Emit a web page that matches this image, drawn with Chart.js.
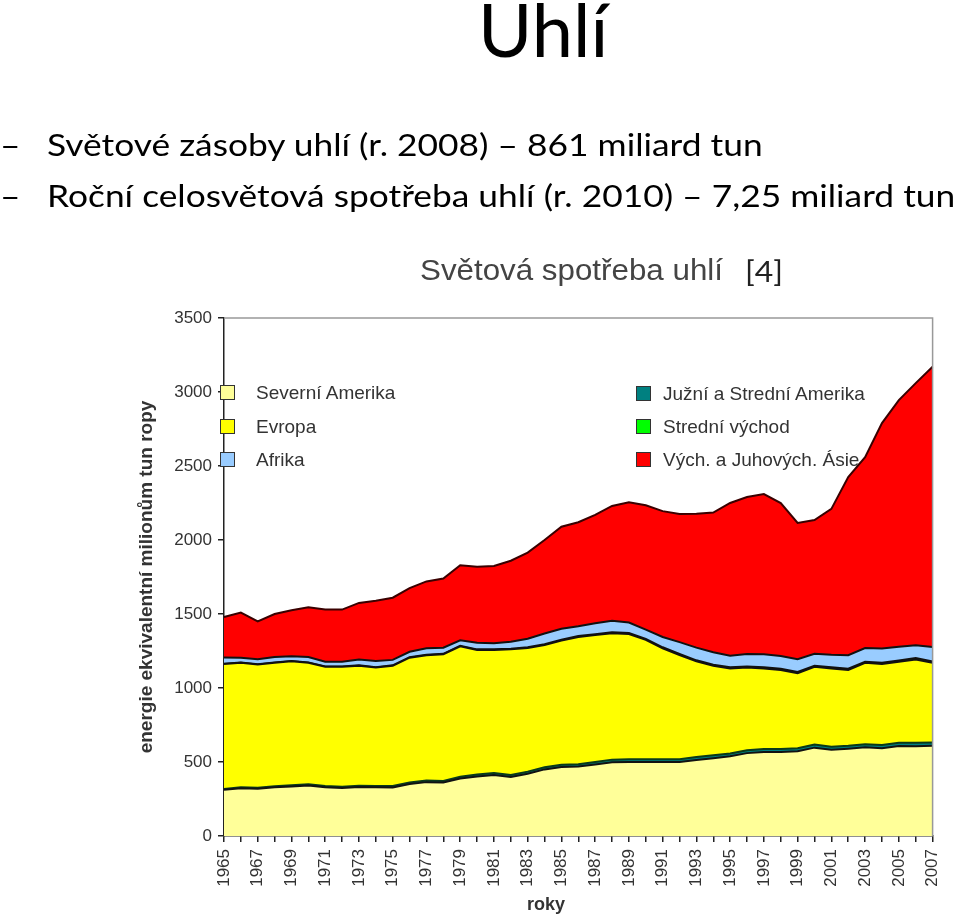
<!DOCTYPE html>
<html><head><meta charset="utf-8">
<script src="https://cdn.jsdelivr.net/npm/chart.js@4.4.0/dist/chart.umd.min.js"></script>
<style>
body{margin:0;background:#fff;width:960px;height:919px;overflow:hidden;position:relative;}
canvas{position:absolute;left:0;top:0;z-index:0;}
.s{position:absolute;white-space:nowrap;line-height:1;z-index:2;transform-origin:0 0;}
.slide{font-family:Lato,'Open Sans',sans-serif;color:#000;}
.str{transform:scaleX(1.14);}
.ch{font-family:'Liberation Sans',Arial,sans-serif;}
.lg{position:absolute;z-index:2;font-family:'Liberation Sans',Arial,sans-serif;font-size:19px;color:#333;white-space:nowrap;line-height:1;}
.lg i{position:absolute;width:13px;height:13px;border:1.5px solid #333;left:0;top:0;}
.lg span{position:absolute;top:-2px;}
</style></head><body>
<canvas id="c" width="960" height="919"></canvas>
<div class="s slide" style="font-size:74px;left:478px;top:-8px">Uhlí</div>
<div class="s slide str" style="font-size:31px;left:0px;top:129px">–</div>
<div class="s slide str" style="font-size:31px;left:47px;top:129px">Světové zásoby uhlí (r. 2008) – 861 miliard tun</div>
<div class="s slide str" style="font-size:31px;left:0px;top:180px">–</div>
<div class="s slide str" style="font-size:31px;left:47px;top:180px">Roční celosvětová spotřeba uhlí (r. 2010) – 7,25 miliard tun</div>
<div class="s ch" style="font-size:29px;left:420px;top:256px;color:#444;transform:scaleX(1.08)">Světová spotřeba uhlí</div>
<div class="s slide" style="font-size:29px;left:745px;top:256px;color:#222;transform:scaleX(1.1)">[4]</div>
<div class="s ch" style="font-size:18px;font-weight:bold;left:527px;top:895px;color:#333">roky</div>
<div id="legend"></div>
<script>
const years = ['1965','1966','1967','1968','1969','1970','1971','1972','1973','1974','1975','1976','1977','1978','1979','1980','1981','1982','1983','1984','1985','1986','1987','1988','1989','1990','1991','1992','1993','1994','1995','1996','1997','1998','1999','2000','2001','2002','2003','2004','2005','2006','2007'];
const yTicks = [0,500,1000,1500,2000,2500,3000,3500];
const northAmerica = [312,323,319,329,335,342,330,325,331,329,328,352,364,361,388,402,412,399,421,450,466,469,483,498,500,500,500,500,514,526,539,560,568,568,573,597,582,590,599,593,608,607,609];
const southCentralAmerica = [6,7,7,7,8,8,8,8,9,9,10,10,11,11,12,13,13,13,14,15,16,16,17,18,18,18,18,18,19,19,19,20,20,20,20,21,21,20,21,22,22,23,23];
const europe = [844,840,832,834,837,820,805,810,810,800,812,843,847,856,882,842,832,849,835,825,838,860,858,854,847,807,750,705,647,605,574,558,544,534,507,525,529,512,550,547,547,563,538];
const middleEast = [2,2,2,2,2,3,3,3,3,3,3,3,3,3,3,4,4,5,5,6,6,6,6,7,7,7,7,7,7,7,8,8,8,8,8,8,8,8,8,9,9,9,9];
const africa = [42,33,35,38,33,37,31,31,40,42,37,37,44,41,37,44,42,46,58,72,74,66,74,78,70,62,70,80,86,84,78,84,88,86,86,80,84,92,92,96,92,86,98];
const asia = [274,305,255,290,310,335,353,353,382,407,420,430,451,468,508,515,522,548,582,632,690,703,732,775,813,841,850,865,905,944,1032,1060,1082,1034,921,904,986,1203,1290,1523,1667,1772,1893];
const seriesNames = ['Severní Amerika','Južní a Strední Amerika','Evropa','Strední východ','Afrika','Vých. a Juhových. Ásie'];
const seriesData = [northAmerica, southCentralAmerica, europe, middleEast, africa, asia];
const seriesColors = ['#FFFF99','#008080','#FFFF00','#00FF00','#99CCFF','#FF0000'];
const lineColors = ['#111','#0a3a1a','#111','#111','#111','#3a0000'];

const datasets = seriesData.map((d,i)=>({
  label: seriesNames[i], data: d,
  backgroundColor: seriesColors[i], borderColor: lineColors[i], borderWidth: 2,
  fill: i===0 ? 'origin' : '-1', pointRadius: 0, tension: 0
}));

const frame = {
  id:'frame',
  afterDatasetsDraw(chart){
    const {ctx, chartArea:a} = chart;
    ctx.save(); ctx.strokeStyle='#999'; ctx.lineWidth=1.5;
    ctx.beginPath(); ctx.moveTo(a.left,a.top); ctx.lineTo(a.right,a.top); ctx.lineTo(a.right,a.bottom); ctx.stroke();
    ctx.restore();
  }
};

new Chart(document.getElementById('c'), {
  type:'line',
  data:{labels: years, datasets},
  options:{
    responsive:false, animation:false, devicePixelRatio:1,
    layout:{padding:{left:130,right:26,top:318,bottom:0}},
    plugins:{legend:{display:false}, tooltip:{enabled:false}},
    scales:{
      x:{
        grid:{drawOnChartArea:false, drawTicks:true, tickLength:6, color:'#222', lineWidth:1.5},
        border:{display:true, color:'#222', width:1.5},
        ticks:{autoSkip:false, maxRotation:90, minRotation:90, padding:7, color:'#333',
          font:{family:'Liberation Sans', size:17},
          callback:(v,i)=> i%2===0 ? years[i] : ''},
        afterFit(s){ s.height = 83; }
      },
      y:{
        stacked:true, min:0, max:3500,
        afterBuildTicks(s){ s.ticks = yTicks.map(v=>({value:v})); },
        grid:{drawOnChartArea:false, drawTicks:true, tickLength:6, color:'#222', lineWidth:1.5},
        border:{display:true, color:'#222', width:1.5},
        ticks:{padding:6, color:'#333', font:{family:'Liberation Sans', size:17}, callback:(v)=>String(v)},
        title:{display:true, text:'energie ekvivalentní milionům tun ropy', color:'#333',
          font:{family:'Liberation Sans', size:19, weight:'bold'}, padding:{top:5,bottom:0}},
        afterFit(s){ s.width = 94; }
      }
    }
  },
  plugins:[frame]
});

// legend (two columns) built from the series names/colors
const legendLayout = [[0,220,385],[2,220,419],[4,220,452],[1,636,386],[3,636,419],[5,636,452]];
const lg = document.getElementById('legend');
legendLayout.forEach(([i,x,y])=>{
  const d = document.createElement('div'); d.className='lg';
  d.style.left = x+'px'; d.style.top = y+'px';
  d.innerHTML = '<i style="background:'+seriesColors[i]+'"></i><span style="left:'+(x<500?36:27)+'px">'+seriesNames[i]+'</span>';
  lg.appendChild(d);
});
</script>
</body></html>
